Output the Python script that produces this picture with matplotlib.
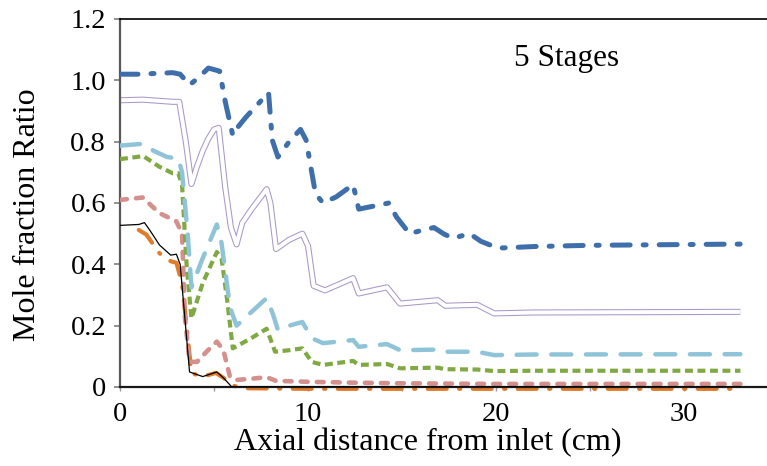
import matplotlib
matplotlib.use("Agg")
import matplotlib.pyplot as plt

plt.rcParams['font.family'] = ['Liberation Serif', 'DejaVu Serif']

# mole fraction ratio along the reactor, one array pair per species
blue_x = [0, 1.0, 2.8, 3.2, 3.7, 4.2, 4.7, 5.3, 5.6, 6.0, 6.3, 6.7, 7.3, 7.9, 8.1, 8.4, 9.0, 9.6, 9.9,
          10.2, 10.4, 10.8, 11.5, 12.4, 12.7, 13.5, 14.3, 14.7, 15.4, 16.0, 16.7, 17.2, 17.7, 18.6,
          19.2, 20.1, 20.9, 22.0, 25.0, 33.0]
blue_y = [1.02, 1.02, 1.025, 1.02, 0.985, 1.01, 1.04, 1.03, 0.93, 0.82, 0.85, 0.88, 0.92, 0.96, 0.805,
          0.75, 0.80, 0.84, 0.805, 0.70, 0.63, 0.60, 0.62, 0.66, 0.58, 0.59, 0.60, 0.555, 0.50, 0.51,
          0.52, 0.50, 0.485, 0.50, 0.475, 0.453, 0.455, 0.458, 0.462, 0.466]

purple_x = [0, 1.2, 2.8, 3.15, 3.5, 3.8, 4.1, 4.4, 4.7, 5.0, 5.25, 5.6, 5.9, 6.2, 6.5, 7.0, 7.8, 8.0,
            8.3, 9.0, 9.7, 10.0, 10.3, 10.9, 12.4, 12.7, 14.2, 14.9, 16.9, 17.3, 19.0, 19.9, 22.0,
            33.0]
purple_y = [0.935, 0.937, 0.93, 0.93, 0.80, 0.662, 0.72, 0.77, 0.81, 0.84, 0.845, 0.65, 0.52, 0.465,
            0.535, 0.58, 0.645, 0.60, 0.45, 0.48, 0.50, 0.46, 0.33, 0.315, 0.355, 0.305, 0.325,
            0.272, 0.283, 0.265, 0.268, 0.24, 0.243, 0.245]

lblue_x = [0, 1.2, 1.8, 2.5, 3.1, 3.3, 3.6, 3.8, 4.4, 5.15, 5.4, 5.85, 6.2, 7.0, 7.8, 8.15, 8.4, 9.0,
           9.7, 10.2, 10.8, 12.4, 12.7, 14.2, 14.9, 16.9, 17.3, 19.0, 19.9, 22.0, 33.0]
lblue_y = [0.787, 0.793, 0.77, 0.75, 0.745, 0.70, 0.50, 0.325, 0.42, 0.53, 0.47, 0.26, 0.20, 0.245,
           0.29, 0.235, 0.186, 0.20, 0.212, 0.159, 0.143, 0.153, 0.131, 0.14, 0.12, 0.122, 0.115,
           0.115, 0.104, 0.106, 0.107]

green_x = [0, 1.24, 2.1, 2.8, 3.1, 3.3, 3.55, 3.8, 4.4, 5.15, 5.4, 5.7, 6.0, 7.0, 7.8, 8.25, 9.0,
           9.7, 10.2, 10.8, 12.4, 12.7, 14.2, 14.9, 16.9, 17.3, 19.0, 19.9, 22.0, 33.0]
green_y = [0.743, 0.753, 0.718, 0.697, 0.697, 0.66, 0.39, 0.224, 0.339, 0.44, 0.42, 0.283, 0.126,
           0.16, 0.19, 0.115, 0.12, 0.126, 0.082, 0.072, 0.085, 0.072, 0.075, 0.061, 0.063, 0.058,
           0.057, 0.052, 0.053, 0.053]

pink_x = [0, 1.2, 2.1, 3.0, 3.3, 3.45, 3.7, 4.1, 4.6, 5.15, 5.5, 5.85, 6.2, 7.0, 7.8, 8.3, 10.0,
          12.5, 15.0, 20.0, 33.0]
pink_y = [0.61, 0.618, 0.567, 0.54, 0.50, 0.23, 0.082, 0.082, 0.115, 0.148, 0.12, 0.033, 0.023,
          0.027, 0.032, 0.02, 0.017, 0.014, 0.012, 0.01, 0.01]

orange_x = [1.0, 1.4, 2.1, 2.7, 3.0, 3.3, 3.6, 3.8, 4.4, 5.1, 5.5, 6.0, 6.5, 10.0, 20.0, 33.0]
orange_y = [0.512, 0.497, 0.436, 0.41, 0.405, 0.338, 0.164, 0.045, 0.034, 0.046, 0.03, 0.005, -0.004,
            -0.006, -0.006, -0.006]

black_x = [0, 1.0, 1.3, 1.6, 2.1, 2.7, 3.0, 3.2, 3.7, 4.4, 5.15, 5.5, 5.95, 6.5, 33.0]
black_y = [0.527, 0.53, 0.536, 0.51, 0.463, 0.43, 0.433, 0.40, 0.049, 0.034, 0.049, 0.03, 0.0, 0.0, 0.0]

y_ticks = [0, 0.2, 0.4, 0.6, 0.8, 1.0, 1.2]
y_tick_labels = ['0', '0.2', '0.4', '0.6', '0.8', '1.0', '1.2']
x_ticks = [0, 10, 20, 30]

fig = plt.figure(figsize=(7.67, 4.66), dpi=100)
ax = fig.add_axes([120 / 767, 79 / 466, 658 / 767, 368 / 466])

# double purple line: wide stroke with a white core
ax.plot(purple_x, purple_y, color='#a898c8', lw=4.4, solid_joinstyle='round',
        solid_capstyle='butt', zorder=2)
ax.plot(purple_x, purple_y, color='white', lw=2.9, solid_joinstyle='round',
        solid_capstyle='butt', zorder=2.1)

ax.plot(orange_x, orange_y, color='#e07b2a', lw=3.0, dashes=(4.5, 3.0, 0.3, 3.0),
        dash_capstyle='round', clip_on=False, zorder=3)
ax.plot(pink_x, pink_y, color='#d4908d', lw=3.3, dashes=(1.5, 2.0),
        dash_capstyle='round', zorder=3.2)
ax.plot(green_x, green_y, color='#80a843', lw=3.0, dashes=(1.9, 1.1),
        dash_capstyle='butt', zorder=3.4)
ax.plot(lblue_x, lblue_y, color='#8fc4d8', lw=3.2, dashes=(4.5, 3.3),
        dash_capstyle='round', zorder=3.6)
ax.plot(blue_x, blue_y, color='#3e6fab', lw=3.6, dashes=(3.6, 2.6, 0.6, 2.6),
        dash_capstyle='round', zorder=3.8)
ax.plot(black_x, black_y, color='black', lw=0.9, zorder=4)

ax.set_xlim(0, 35)
ax.set_ylim(0, 1.2)
ax.set_yticks(y_ticks)
ax.set_yticklabels(y_tick_labels)
ax.set_xticks(x_ticks)
ax.set_xticks([5, 15, 25], minor=True)

ax.tick_params(axis='y', direction='out', length=4, width=1.2, color='#7f7f7f', pad=6,
               labelsize=20.5)
ax.tick_params(axis='x', which='both', direction='out', length=3, width=1, color='#9a9a9a',
               pad=8, labelsize=20.5)

ax.spines['left'].set_color('#595959')
ax.spines['left'].set_linewidth(1.6)
ax.spines['bottom'].set_color('#1a1a1a')
ax.spines['bottom'].set_linewidth(1.6)
ax.spines['bottom'].set_zorder(3.5)
ax.spines['top'].set_color('black')
ax.spines['top'].set_linewidth(1.2)
ax.spines['right'].set_visible(False)

ax.set_xlabel('Axial distance from inlet (cm)', fontsize=23)
ax.set_ylabel('Mole fraction Ratio', fontsize=23)
ax.xaxis.set_label_coords(0.468, -0.112)
ax.yaxis.set_label_coords(-0.118, 0.467)

ax.text(0.679, 0.894, '5 Stages', transform=ax.transAxes, fontsize=22.5,
        ha='center', va='center')

fig.savefig('out.png', dpi=100)
